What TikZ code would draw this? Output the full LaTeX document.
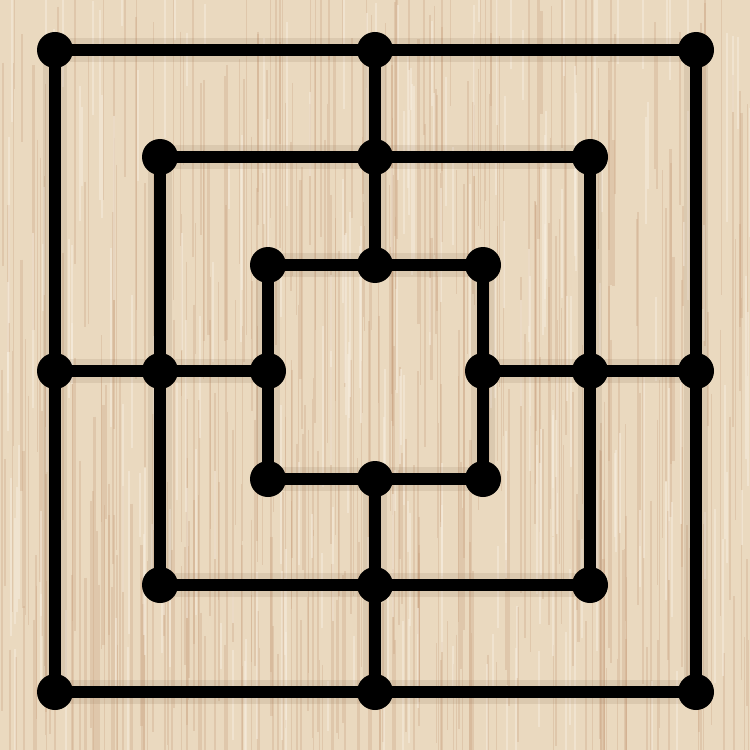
\documentclass[tikz,border=0pt]{standalone}
\usetikzlibrary{backgrounds}
\definecolor{woodbase}{RGB}{234,217,191}
\definecolor{woodgrain}{RGB}{200,160,126}
\definecolor{woodlight}{RGB}{247,238,224}

\begin{document}
\begin{tikzpicture}[
  x=0.1mm,
  y=-0.1mm,
  line join=round,
  hole/.style={circle,fill=black,draw=none,minimum size=3.6mm,inner sep=0pt},
  boardline/.style={draw=black,line width=1.2mm},
  groove/.style={draw=woodgrain!70!black,line width=2.4mm,opacity=0.15}
]
  \useasboundingbox (0,0) rectangle (750,750);

  % Points of the board: outer (o), middle (m) and inner (i) square.
  \node[hole] (otl) at (55,50) {};
  \node[hole] (ot)  at (375,50) {};
  \node[hole] (otr) at (696,50) {};
  \node[hole] (or)  at (696,371) {};
  \node[hole] (obr) at (696,692) {};
  \node[hole] (ob)  at (375,692) {};
  \node[hole] (obl) at (55,692) {};
  \node[hole] (ol)  at (55,371) {};

  \node[hole] (mtl) at (160,157) {};
  \node[hole] (mt)  at (375,157) {};
  \node[hole] (mtr) at (590,157) {};
  \node[hole] (mr)  at (590,371) {};
  \node[hole] (mbr) at (590,585) {};
  \node[hole] (mb)  at (375,585) {};
  \node[hole] (mbl) at (160,585) {};
  \node[hole] (ml)  at (160,371) {};

  \node[hole] (itl) at (268,265) {};
  \node[hole] (it)  at (375,265) {};
  \node[hole] (itr) at (483,265) {};
  \node[hole] (ir)  at (483,371) {};
  \node[hole] (ibr) at (483,479) {};
  \node[hole] (ib)  at (375,479) {};
  \node[hole] (ibl) at (268,479) {};
  \node[hole] (il)  at (268,371) {};

  \begin{scope}[on background layer]
    % Wooden panel with fine vertical grain.
    \fill[woodbase] (0,0) rectangle (750,750);
    \pgfmathsetseed{7}
    \foreach \k in {1,...,420} {
      \pgfmathsetmacro{\gx}{750*rnd}
      \pgfmathsetmacro{\gy}{750*rnd-80}
      \pgfmathsetmacro{\gl}{100+300*rnd}
      \pgfmathsetmacro{\gw}{0.08+0.17*rnd}
      \draw[woodgrain,opacity=0.3,line width=\gw mm] (\gx,\gy) -- ++(0,\gl);
    }
    \foreach \k in {1,...,220} {
      \pgfmathsetmacro{\gx}{750*rnd}
      \pgfmathsetmacro{\gy}{750*rnd-60}
      \pgfmathsetmacro{\gl}{40+160*rnd}
      \draw[woodlight,opacity=0.5,line width=0.2mm] (\gx,\gy) -- ++(0,\gl);
    }

    % Soft shadow of the lines, then the lines.
    \foreach \style in {groove,boardline} {
      \foreach \r in {o,m,i} {
        \draw[\style] (\r tl.center) -- (\r t.center) -- (\r tr.center) -- (\r r.center)
          -- (\r br.center) -- (\r b.center) -- (\r bl.center) -- (\r l.center) -- cycle;
      }
      \foreach \s in {t,r,b,l} {
        \draw[\style] (o\s.center) -- (m\s.center) -- (i\s.center);
      }
    }
  \end{scope}
\end{tikzpicture}
\end{document}
